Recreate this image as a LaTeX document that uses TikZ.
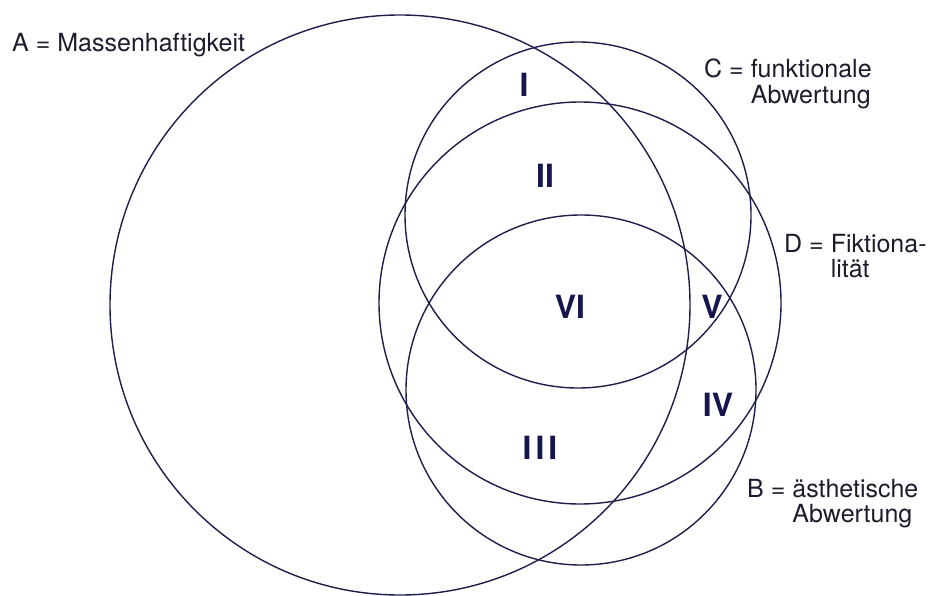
\documentclass[tikz,border=0pt]{standalone}
\usepackage{fontspec}
\setmainfont{TeX Gyre Heros}
\usepackage{xcolor}
\definecolor{ringink}{HTML}{1E1E4C}
\definecolor{tagink}{HTML}{1C1C2C}
\definecolor{numink}{HTML}{16164E}
\newcommand{\venntag}[3]{#1\ =\ \begin{tabular}[t]{@{}l@{}}#2\\#3\end{tabular}}

\begin{document}
\begin{tikzpicture}[
  x=1pt, y=-1pt,
  ring/.style={draw=ringink, line width=1.4pt},
  tag/.style={anchor=base west, inner sep=0pt, text=tagink,
              font=\fontsize{25}{25}\selectfont},
  num/.style={inner sep=0pt, text=numink,
              font=\fontsize{32}{32}\selectfont\bfseries},
]
\useasboundingbox (0,0) rectangle (928,596);

% A, C, D, B
\draw[ring] (400,305) circle[radius=290pt];
\draw[ring] (578,215) circle[radius=173pt];
\draw[ring] (580,303) circle[radius=201pt];
\draw[ring] (581,390) circle[radius=175pt];

\node[tag] (tagA) at (12,52) {A\ =\ Massenhaftigkeit};
\node[tag] (tagC) at (704,78) {\venntag{C}{funktionale}{Abwertung}};
\node[tag] (tagD) at (784,252) {\venntag{D}{Fiktiona-}{lität}};
\node[tag] (tagB) at (747,497) {\venntag{B}{ästhetische}{Abwertung}};

\node[num] (rI)   at (524,85)  {I};
\node[num] (rII)  at (545,176) {II};
\node[num] (rVI)  at (570,307) {VI};
\node[num] (rV)   at (712,307) {V};
\node[num] (rIV)  at (718,405) {IV};
\node[num] (rIII) at (540,448) {I\kern4ptI\kern4ptI};

\end{tikzpicture}
\end{document}
